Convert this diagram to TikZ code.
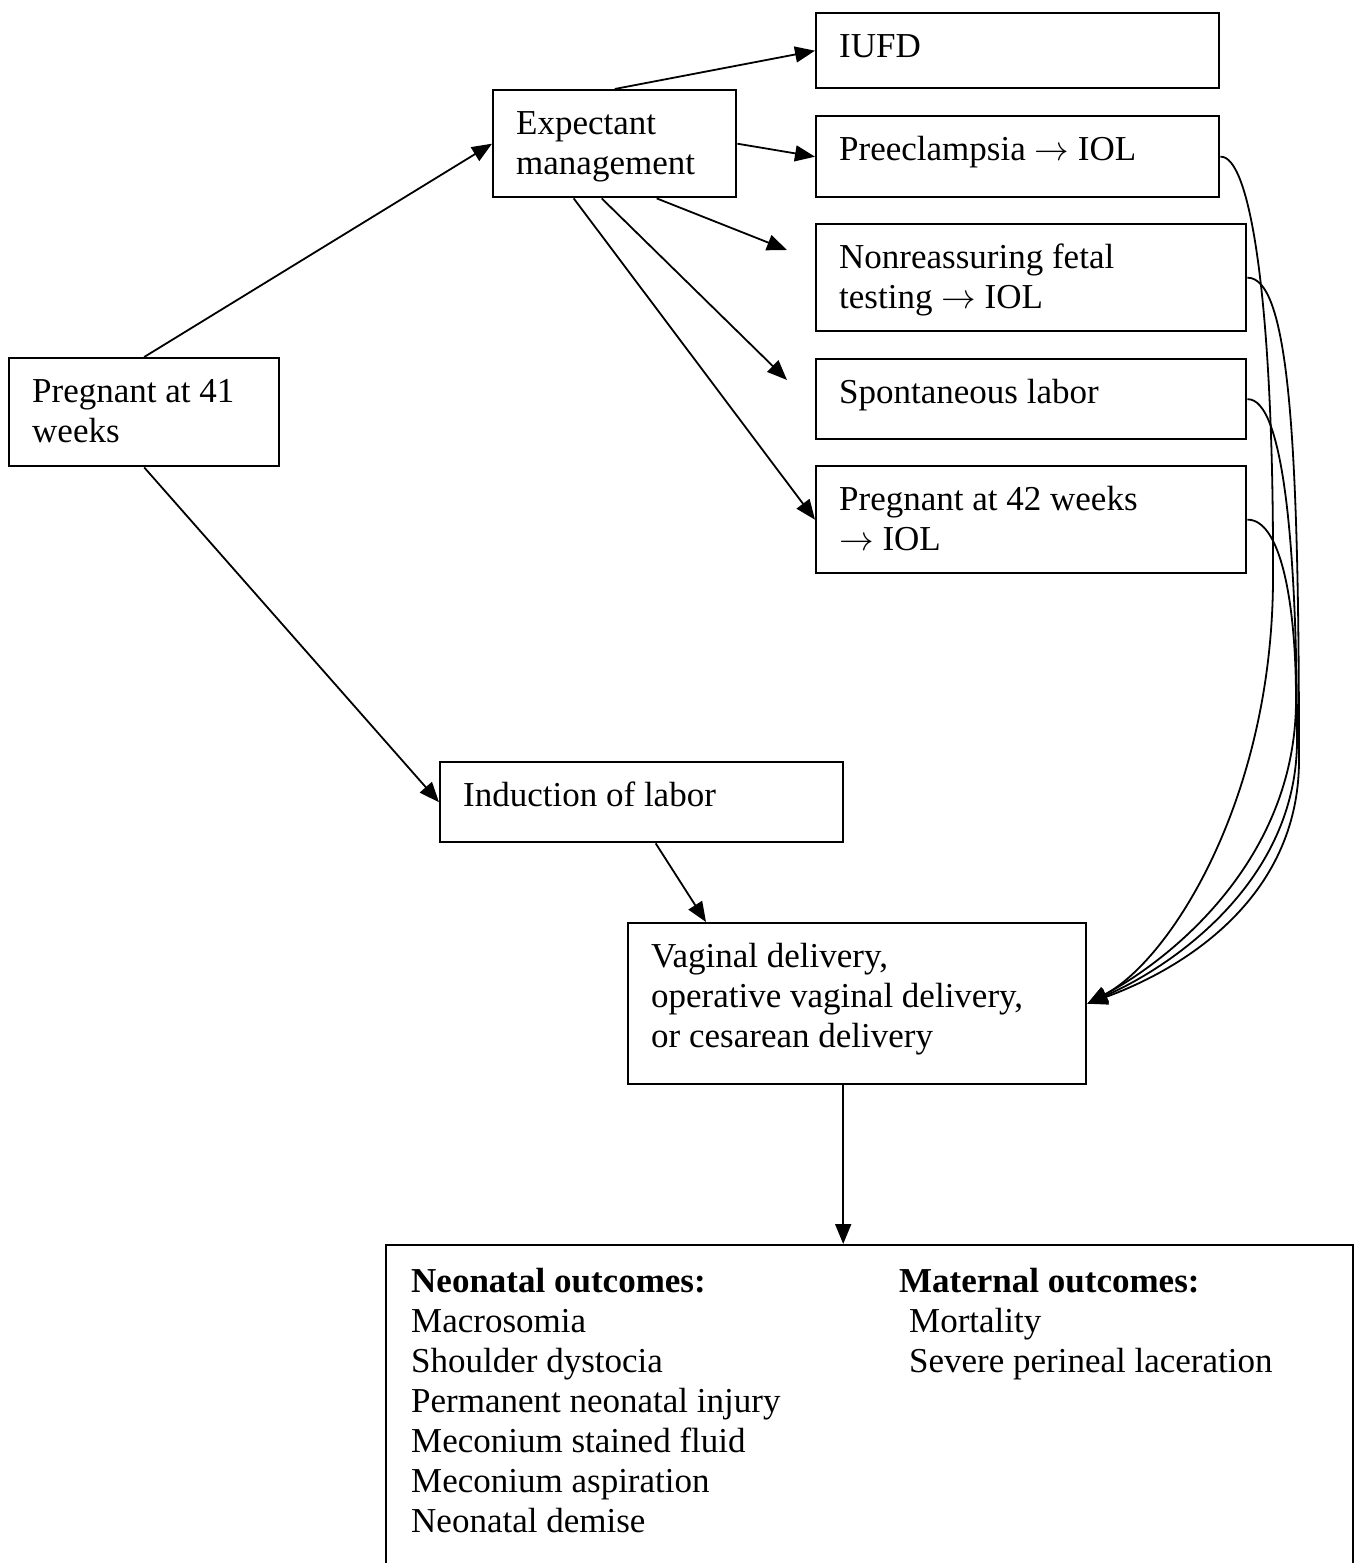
\documentclass[tikz,border=0pt]{standalone}
\usepackage{fontspec}
\setmainfont{Liberation Serif}
\usetikzlibrary{calc,arrows.meta}
\newcommand{\boxtxt}[3]{\parbox[c][#2][t]{#1}{\raggedright\vspace*{8pt}\strut#3}}
\tikzset{
	box/.style={draw, line width=1.2pt, anchor=north west, inner xsep=11.5pt, inner ysep=0pt},
	arr/.style={line width=0.9pt, -{Triangle[length=10pt,width=8pt]}},
}

\begin{document}
\begin{tikzpicture}[x=0.5pt, y=-0.5pt, font=\fontsize{17.5}{20}\selectfont]
		%%%%% START %%%%%
		\useasboundingbox (0, 0) rectangle (1361, 1563);
		
		\node[box] (P41) at (8, 357) {\boxtxt{112pt}{54pt}{Pregnant at 41\\weeks}};
		\node[box] (Exp) at (492, 89) {\boxtxt{98.5pt}{53.5pt}{Expectant\\management}};
		\node[box] (IUFD) at (815, 12) {\boxtxt{178.5pt}{37.5pt}{IUFD}};
		\node[box] (Pre) at (815, 115) {\boxtxt{178.5pt}{40.5pt}{Preeclampsia $\rightarrow$ IOL}};
		\node[box] (Non) at (815, 223) {\boxtxt{192pt}{53.5pt}{Nonreassuring fetal\\testing $\rightarrow$ IOL}};
		\node[box] (Spo) at (815, 358) {\boxtxt{192pt}{40pt}{Spontaneous labor}};
		\node[box] (P42) at (815, 465) {\boxtxt{192pt}{53.5pt}{Pregnant at 42 weeks\\$\rightarrow$ IOL}};
		\node[box] (Ind) at (439, 761) {\boxtxt{178.5pt}{40pt}{Induction of labor}};
		\node[box] (Vag) at (627, 922) {\boxtxt{206pt}{80.5pt}{Vaginal delivery,\\operative vaginal delivery,\\or cesarean delivery}};
		\node[box, inner xsep=12.5pt] (Out) at (385, 1244) {\parbox[c][173pt][t]{458.5pt}{\vspace*{9.5pt}\strut
			\parbox[t]{244pt}{\textbf{Neonatal outcomes:}\\Macrosomia\\Shoulder dystocia\\Permanent neonatal injury\\Meconium stained fluid\\Meconium aspiration\\Neonatal demise}%
			\parbox[t]{214.5pt}{\textbf{Maternal outcomes:}\\\hspace*{5pt}Mortality\\\hspace*{5pt}Severe perineal laceration}}};
		
		\coordinate (nonTip) at (787, 250);
		\coordinate (spoTip) at (787, 380);
		\coordinate (hub) at (Vag.east);
		\coordinate (vagOut) at ($(Vag.south)+(-14, 0)$);
		
		\draw[arr] (P41.north) -- (Exp.west);
		\draw[arr] (P41.south) -- (Ind.west);
		\draw[arr] (Exp.north) -- (IUFD.west);
		\draw[arr] (Exp.east) -- (Pre.west);
		\draw[arr] ($(Exp.south)+(42, 0)$) -- (nonTip);
		\draw[arr] ($(Exp.south)+(-13, 0)$) -- (spoTip);
		\draw[arr] ($(Exp.south)+(-41, 0)$) -- (P42.west);
		\draw[arr] ($(Ind.south)+(14, 0)$) -- ($(Vag.north west)+(79, 0)$);
		\draw[arr] (vagOut) -- (vagOut |- Out.north);
		
		\draw[arr] (Pre.east) .. controls (1250, 155) and (1274, 300) .. (1273, 580) .. controls (1272, 800) and (1170, 960) .. (hub);
		\draw[arr] (Non.east) .. controls (1290, 277) and (1299, 450) .. (1299, 760) .. controls (1299, 900) and (1180, 970) .. (hub);
		\draw[arr] (Spo.east) .. controls (1285, 398) and (1297, 560) .. (1297, 740) .. controls (1297, 880) and (1175, 965) .. (hub);
		\draw[arr] (P42.east) .. controls (1280, 519) and (1296, 600) .. (1296, 700) .. controls (1296, 860) and (1170, 960) .. (hub);
		
		%%%%% END %%%%%
	\end{tikzpicture}
\end{document}
